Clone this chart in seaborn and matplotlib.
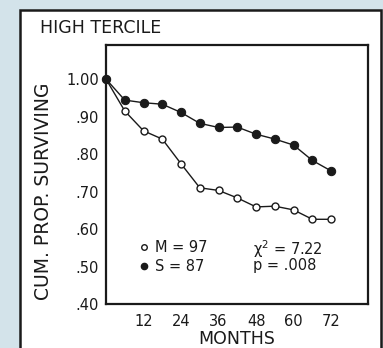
import matplotlib.pyplot as plt
import pandas as pd
import seaborn as sns
from matplotlib.lines import Line2D
from matplotlib.patches import Rectangle

MONTHS = [0, 6, 12, 18, 24, 30, 36, 42, 48, 54, 60, 66, 72]
M_SURV = [1.00, 0.915, 0.862, 0.840, 0.774, 0.710, 0.703, 0.683, 0.659, 0.661, 0.651, 0.626, 0.626]
S_SURV = [1.00, 0.944, 0.937, 0.933, 0.911, 0.882, 0.871, 0.872, 0.853, 0.840, 0.824, 0.783, 0.755]
X_TICKS = [12, 24, 36, 48, 60, 72]
Y_TICKS = [0.40, 0.50, 0.60, 0.70, 0.80, 0.90, 1.00]
Y_LABELS = [".40", ".50", ".60", ".70", ".80", ".90", "1.00"]
M_LABEL = "M = 97"
S_LABEL = "S = 87"
STATS = ["\u03c7$^2$ = 7.22", "p = .008"]

BG = "#d3e3ea"
INK = "#1a1a1a"


def main() -> None:
    sns.set_theme(style="white")
    plt.rcParams["font.family"] = ["DejaVu Sans"]

    df = pd.DataFrame({"month": MONTHS, "M": M_SURV, "S": S_SURV})

    fig = plt.figure(figsize=(3.83, 3.48), dpi=100, facecolor=BG)
    fig.patches.append(
        Rectangle((20 / 383, -0.1), 361 / 383, 1 - 10 / 348 + 0.1,
                  transform=fig.transFigure, facecolor="white",
                  edgecolor=INK, linewidth=1.8, zorder=-1)
    )
    ax = fig.add_axes([106 / 383, 44 / 348, 262 / 383, 259 / 348])
    ax.set_zorder(2)
    ax.set_facecolor("white")

    sns.lineplot(data=df, x="month", y="M", ax=ax, color=INK, linewidth=1.0,
                 marker="o", markersize=5, markerfacecolor="white",
                 markeredgecolor=INK, markeredgewidth=1.0, clip_on=False)
    sns.lineplot(data=df, x="month", y="S", ax=ax, color=INK, linewidth=1.0,
                 marker="o", markersize=6, markerfacecolor=INK,
                 markeredgecolor=INK, clip_on=False)

    ax.set_xlim(0, 83.8)
    ax.set_ylim(0.40, 1.091)
    ax.set_xticks(X_TICKS)
    ax.set_yticks(Y_TICKS)
    ax.set_yticklabels(Y_LABELS)
    ax.set_xlabel("")
    ax.set_ylabel("")
    ax.tick_params(direction="in", length=4, width=1.2, colors=INK,
                   labelsize=10.5, pad=5)
    ax.tick_params(axis="x", pad=7)
    for sp in ax.spines.values():
        sp.set_color(INK)
        sp.set_linewidth(1.6)

    handles = [
        Line2D([], [], linestyle="none", marker="o", markersize=4,
               markerfacecolor="white", markeredgecolor=INK),
        Line2D([], [], linestyle="none", marker="o", markersize=4.5,
               markerfacecolor=INK, markeredgecolor=INK),
    ]
    ax.legend(handles, [M_LABEL, S_LABEL], loc="lower left",
              bbox_to_anchor=(0.08, 0.065), frameon=False, fontsize=10.5,
              handlelength=0.6, handletextpad=0.4, labelspacing=0.25,
              labelcolor=INK)
    ax.text(0.56, 0.212, STATS[0], transform=ax.transAxes, fontsize=10.5,
            color=INK, va="center")
    ax.text(0.56, 0.147, STATS[1], transform=ax.transAxes, fontsize=10.5,
            color=INK, va="center")

    fig.text(40 / 383, 1 - 28 / 348, "HIGH TERCILE", fontsize=12.5,
             color=INK, ha="left", va="center")
    fig.text(44 / 383, 1 - 191 / 348, "CUM. PROP. SURVIVING", fontsize=13.5,
             color=INK, rotation=90, ha="center", va="center")
    fig.text(237 / 383, 1 - 339 / 348, "MONTHS", fontsize=12.5,
             color=INK, ha="center", va="center")

    fig.savefig("out.png", dpi=100, facecolor=BG)


if __name__ == "__main__":
    main()
